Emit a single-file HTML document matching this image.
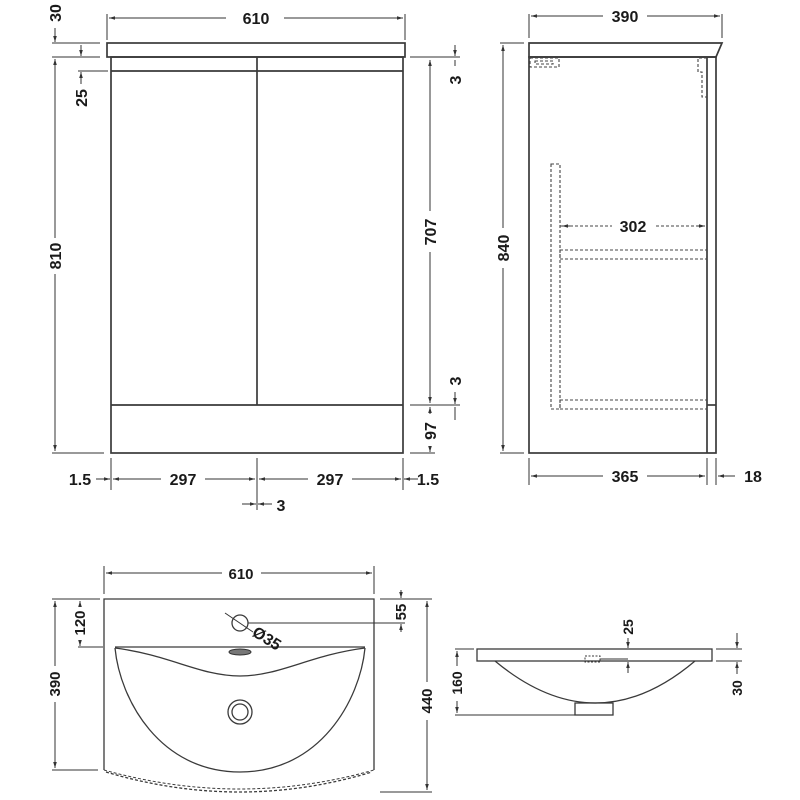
<!DOCTYPE html>
<html><head><meta charset="utf-8"><style>
html,body{margin:0;padding:0;background:#fff}
svg{display:block}
text{font-family:"Liberation Sans",sans-serif;font-weight:bold;fill:#1a1a1a}
</style></head><body>
<svg width="800" height="800" viewBox="0 0 800 800" xmlns="http://www.w3.org/2000/svg">
<defs>
<marker id="a" viewBox="0 0 10 10" refX="10" refY="5" markerWidth="6" markerHeight="6" orient="auto-start-reverse"><path d="M0,2 L10,5 L0,8 z" fill="#333"/></marker>
</defs>
<g stroke="#3a3a3a" stroke-width="1.7" fill="none">
<rect x="107" y="43" width="298" height="14"/>
<rect x="111" y="57" width="292" height="396"/>
<line x1="111" y1="71" x2="403" y2="71"/>
<line x1="257" y1="57" x2="257" y2="405"/>
<line x1="111" y1="405" x2="403" y2="405"/>
<path d="M529,43 L722,43 L716,57 L529,57 Z"/>
<rect x="529" y="57" width="187" height="396"/>
<line x1="707" y1="57" x2="707" y2="453"/>
<line x1="707" y1="405" x2="716" y2="405"/>
</g>
<g stroke="#444" stroke-width="1.1" fill="none" stroke-dasharray="3,2">
<rect x="530" y="58" width="29" height="9"/>
<rect x="535" y="61" width="18" height="3"/>
<path d="M707,58 L698,58 L698,72 L702,72 L702,97 L707,97"/>
<rect x="551" y="164" width="9" height="245"/>
<rect x="560" y="250" width="147" height="9"/>
<rect x="560" y="400" width="147" height="9"/>
<line x1="560" y1="226" x2="612" y2="226"/>
<line x1="656" y1="226" x2="705" y2="226"/>
</g>
<g stroke="#333" stroke-width="1" fill="none">
<line x1="107" y1="14" x2="107" y2="40"/><line x1="405" y1="14" x2="405" y2="40"/>
<line x1="109" y1="18" x2="226" y2="18" marker-start="url(#a)"/><line x1="284" y1="18" x2="403" y2="18" marker-end="url(#a)"/>
<line x1="52" y1="43" x2="100" y2="43"/><line x1="52" y1="57" x2="100" y2="57"/>
<line x1="55" y1="28" x2="55" y2="42" marker-end="url(#a)"/>
<line x1="55" y1="59" x2="55" y2="238" marker-start="url(#a)"/><line x1="55" y1="274" x2="55" y2="451" marker-end="url(#a)"/>
<line x1="52" y1="453" x2="104" y2="453"/>
<line x1="78" y1="71" x2="108" y2="71"/>
<line x1="81" y1="45" x2="81" y2="56" marker-end="url(#a)"/><line x1="81" y1="72" x2="81" y2="84" marker-start="url(#a)"/>
<line x1="410" y1="57" x2="460" y2="57"/><line x1="410" y1="405" x2="460" y2="405"/><line x1="410" y1="453" x2="435" y2="453"/>
<line x1="455" y1="45" x2="455" y2="56" marker-end="url(#a)"/><line x1="455" y1="60" x2="455" y2="66"/>
<line x1="455" y1="392" x2="455" y2="404" marker-end="url(#a)"/><line x1="455" y1="407" x2="455" y2="420"/>
<line x1="430" y1="60" x2="430" y2="211" marker-start="url(#a)"/><line x1="430" y1="252" x2="430" y2="403" marker-end="url(#a)"/>
<line x1="430" y1="407" x2="430" y2="414" marker-start="url(#a)"/><line x1="430" y1="447" x2="430" y2="452" marker-end="url(#a)"/>
<line x1="111" y1="458" x2="111" y2="490"/><line x1="257" y1="458" x2="257" y2="510"/><line x1="403" y1="458" x2="403" y2="490"/>
<line x1="96" y1="479" x2="110" y2="479" marker-end="url(#a)"/>
<line x1="113" y1="479" x2="161" y2="479" marker-start="url(#a)"/><line x1="205" y1="479" x2="255" y2="479" marker-end="url(#a)"/>
<line x1="259" y1="479" x2="308" y2="479" marker-start="url(#a)"/><line x1="352" y1="479" x2="401" y2="479" marker-end="url(#a)"/>
<line x1="418" y1="479" x2="404" y2="479" marker-end="url(#a)"/>
<line x1="242" y1="504" x2="256" y2="504" marker-end="url(#a)"/><line x1="272" y1="504" x2="258" y2="504" marker-end="url(#a)"/>
<line x1="529" y1="14" x2="529" y2="38"/><line x1="722" y1="14" x2="722" y2="38"/>
<line x1="531" y1="16" x2="603" y2="16" marker-start="url(#a)"/><line x1="647" y1="16" x2="720" y2="16" marker-end="url(#a)"/>
<line x1="500" y1="43" x2="524" y2="43"/><line x1="500" y1="453" x2="524" y2="453"/>
<line x1="503" y1="45" x2="503" y2="228" marker-start="url(#a)"/><line x1="503" y1="268" x2="503" y2="451" marker-end="url(#a)"/>
<line x1="529" y1="458" x2="529" y2="485"/><line x1="707" y1="458" x2="707" y2="485"/><line x1="716" y1="458" x2="716" y2="485"/>
<line x1="531" y1="476" x2="603" y2="476" marker-start="url(#a)"/><line x1="647" y1="476" x2="705" y2="476" marker-end="url(#a)"/>
<line x1="735" y1="476" x2="718" y2="476" marker-end="url(#a)"/>
<line x1="562" y1="226" x2="570" y2="226" marker-start="url(#a)"/><line x1="697" y1="226" x2="705" y2="226" marker-end="url(#a)"/>
</g>
<g font-size="16">
<text x="256" y="24" text-anchor="middle">610</text>
<text x="625" y="22" text-anchor="middle">390</text>
<text transform="translate(61,13) rotate(-90)" text-anchor="middle">30</text>
<text transform="translate(87,98) rotate(-90)" text-anchor="middle">25</text>
<text transform="translate(61,256) rotate(-90)" text-anchor="middle">810</text>
<text transform="translate(461,80) rotate(-90)" text-anchor="middle">3</text>
<text transform="translate(436,232) rotate(-90)" text-anchor="middle">707</text>
<text transform="translate(461,381) rotate(-90)" text-anchor="middle">3</text>
<text transform="translate(436,431) rotate(-90)" text-anchor="middle">97</text>
<text transform="translate(509,248) rotate(-90)" text-anchor="middle">840</text>
<text x="80" y="485" text-anchor="middle">1.5</text>
<text x="183" y="485" text-anchor="middle">297</text>
<text x="330" y="485" text-anchor="middle">297</text>
<text x="428" y="485" text-anchor="middle">1.5</text>
<text x="281" y="511" text-anchor="middle">3</text>
<text x="633" y="232" text-anchor="middle">302</text>
<text x="625" y="482" text-anchor="middle">365</text>
<text x="753" y="482" text-anchor="middle">18</text>
</g>
<g stroke="#3a3a3a" stroke-width="1.3" fill="none">
<path d="M104,770 L104,599 L374,599 L374,770"/>
<path d="M106,772 Q240,812 372,772" stroke-dasharray="3,2"/>
<path d="M104,770 Q240,808 374,770" stroke-dasharray="3,2" stroke-width="1"/>
<line x1="115" y1="647" x2="365" y2="647"/>
<path d="M115,648 C170,655 200,676 240,676 C280,676 310,655 365,648"/>
<path d="M115,648 C120,700 160,772 240,772 C320,772 360,700 365,648"/>
<circle cx="240" cy="623" r="8"/>
<circle cx="240" cy="712" r="12"/><circle cx="240" cy="712" r="8"/>
<rect x="477" y="649" width="235" height="12"/>
<path d="M495,661 Q596,745 695,661"/>
<rect x="575" y="703" width="38" height="12"/>
<rect x="585" y="656" width="15" height="6" stroke-dasharray="2,1.5" stroke-width="1"/>
</g>
<ellipse cx="240" cy="652" rx="11" ry="3" fill="#777" stroke="#333"/>
<g stroke="#333" stroke-width="1" fill="none">
<line x1="225" y1="613" x2="253" y2="632"/>
<line x1="248" y1="623" x2="405" y2="623"/>
<line x1="104" y1="566" x2="104" y2="594"/><line x1="374" y1="566" x2="374" y2="594"/>
<line x1="106" y1="573" x2="222" y2="573" marker-start="url(#a)"/><line x1="261" y1="573" x2="372" y2="573" marker-end="url(#a)"/>
<line x1="52" y1="599" x2="100" y2="599"/><line x1="52" y1="770" x2="98" y2="770"/>
<line x1="55" y1="601" x2="55" y2="666" marker-start="url(#a)"/><line x1="55" y1="702" x2="55" y2="768" marker-end="url(#a)"/>
<line x1="78" y1="647" x2="103" y2="647"/>
<line x1="80" y1="601" x2="80" y2="604" marker-start="url(#a)"/><line x1="80" y1="641" x2="80" y2="646" marker-end="url(#a)"/>
<line x1="380" y1="599" x2="432" y2="599"/><line x1="380" y1="792" x2="432" y2="792"/>
<line x1="427" y1="601" x2="427" y2="682" marker-start="url(#a)"/><line x1="427" y1="720" x2="427" y2="790" marker-end="url(#a)"/>
<line x1="401" y1="590" x2="401" y2="598" marker-end="url(#a)"/><line x1="401" y1="624" x2="401" y2="632" marker-start="url(#a)"/>
<line x1="455" y1="649" x2="474" y2="649"/><line x1="455" y1="715" x2="575" y2="715"/>
<line x1="457" y1="651" x2="457" y2="666" marker-start="url(#a)"/><line x1="457" y1="701" x2="457" y2="713" marker-end="url(#a)"/>
<line x1="600" y1="659" x2="628" y2="659"/>
<line x1="628" y1="638" x2="628" y2="648" marker-end="url(#a)"/><line x1="628" y1="662" x2="628" y2="673" marker-start="url(#a)"/>
<line x1="716" y1="649" x2="742" y2="649"/><line x1="716" y1="661" x2="742" y2="661"/>
<line x1="737" y1="633" x2="737" y2="648" marker-end="url(#a)"/><line x1="737" y1="662" x2="737" y2="674" marker-start="url(#a)"/>
</g>
<g font-size="15" style="font-weight:normal">
<text x="241" y="579" text-anchor="middle">610</text>
<text transform="translate(60,684) rotate(-90)" text-anchor="middle">390</text>
<text transform="translate(85,623) rotate(-90)" text-anchor="middle">120</text>
<text transform="translate(432,701) rotate(-90)" text-anchor="middle">440</text>
<text transform="translate(406,612) rotate(-90)" text-anchor="middle">55</text>
<text transform="translate(264,643) rotate(32)" text-anchor="middle" font-size="16">Ø35</text>
<text transform="translate(462,683) rotate(-90)" text-anchor="middle" font-size="14">160</text>
<text transform="translate(633,627) rotate(-90)" text-anchor="middle" font-size="14">25</text>
<text transform="translate(742,688) rotate(-90)" text-anchor="middle" font-size="14">30</text>
</g>
</svg>
</body></html>
